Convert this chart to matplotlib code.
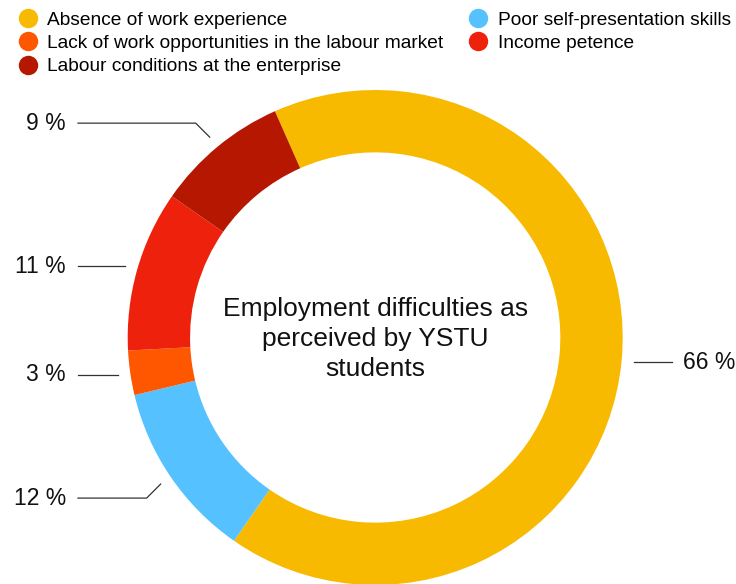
import matplotlib
matplotlib.use("Agg")
import matplotlib.pyplot as plt
from matplotlib.lines import Line2D
import numpy as np

plt.rcParams['font.family'] = ['Liberation Sans', 'DejaVu Sans']

categories = ["Absence of work experience", "Poor self-presentation skills",
              "Lack of work opportunities in the labour market", "Income petence",
              "Labour conditions at the enterprise"]
values = [66.3, 11.6, 2.9, 10.5, 8.7]
pct_labels = ["66 %", "12 %", "3 %", "11 %", "9 %"]
colors = ["#F8BA00", "#56C1FF", "#FF5600", "#EE220C", "#B51700"]
title = "Employment difficulties as\nperceived by YSTU\nstudents"

W, H = 736, 584
fig = plt.figure(figsize=(W / 100, H / 100), dpi=100)
ax = fig.add_axes([0, 0, 1, 1])

cx, cy, R = 375.2, H - 337.5, 247.5
wedges, _ = ax.pie(values, colors=colors, startangle=113.9, counterclock=False,
                   center=(cx, cy), radius=R, frame=True,
                   wedgeprops=dict(width=R * 0.252, linewidth=0))
ax.set_xlim(0, W)
ax.set_ylim(0, H)
ax.set_aspect('equal')
ax.axis('off')

ax.text(cx, cy - 1.5, title, ha='center', va='center', fontsize=19,
        linespacing=1.32, color='#111111')

# leader lines and labels
elbow = [0, 14, 0, 0, 14]
for w, lab, eb in zip(wedges, pct_labels, elbow):
    ang = np.deg2rad((w.theta1 + w.theta2) / 2)
    ca, sa = np.cos(ang), np.sin(ang)
    x0 = cx + R * 1.05 * ca
    y0 = cy + R * 1.05 * sa
    side = np.sign(ca)
    ey = y0 + np.sign(sa) * eb
    ex = x0 + side * eb
    if side < 0:
        xe = 78
        ax.plot([x0, ex, xe], [y0, ey, ey], color='#333333', lw=0.9)
        ax.text(xe - 12, ey, lab, ha='right', va='center', fontsize=16.5, color='#111111')
    else:
        xe = x0 + 38
        ax.plot([x0, xe], [y0, y0], color='#333333', lw=0.9)
        ax.text(xe + 11, y0, lab, ha='left', va='center', fontsize=16.5, color='#111111')

order = [0, 2, 4, 1, 3]
handles = [Line2D([], [], marker='o', linestyle='none', markersize=14,
                  markerfacecolor=colors[i], markeredgewidth=0) for i in order]
fig.legend(handles, [categories[i] for i in order], ncol=2, loc='upper left',
           bbox_to_anchor=(0.005, 1.0), frameon=False, fontsize=13.8,
           handletextpad=0.35, columnspacing=1.2, labelspacing=0.3,
           handlelength=1.3, borderaxespad=0.2)

fig.savefig("out.png", dpi=100)
